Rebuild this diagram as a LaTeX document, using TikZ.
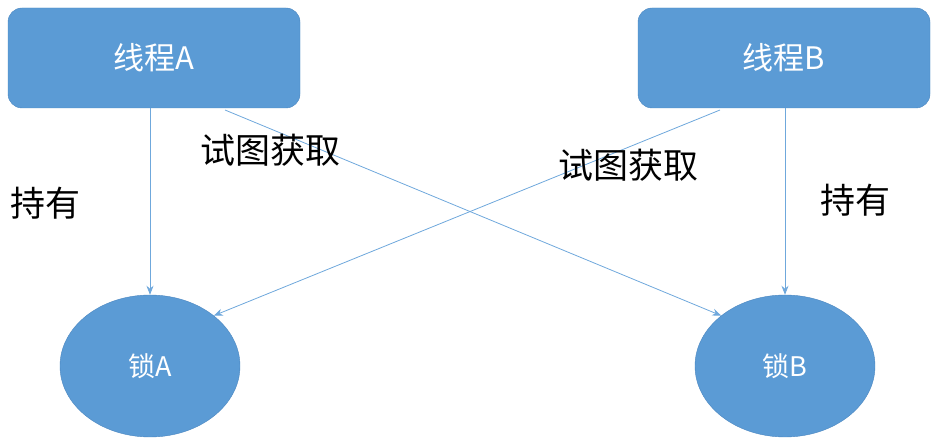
\documentclass[tikz,border=0pt]{standalone}
\usepackage{fontspec}
\setmainfont{Noto Sans CJK SC}
\usetikzlibrary{arrows.meta,shapes.geometric}
\definecolor{fillb}{HTML}{5B9BD5}
\definecolor{edgeb}{HTML}{4A86C0}
\definecolor{arr}{HTML}{6FA8DC}
\begin{document}
\begin{tikzpicture}[x=1pt,y=-1pt,
  thread/.style={draw=edgeb,fill=fillb,rounded corners=14pt,minimum width=292pt,minimum height=100pt,text=white,font=\fontsize{31}{33}\selectfont},
  lock/.style={draw=edgeb,fill=fillb,ellipse,minimum width=180pt,minimum height=142pt,text=white,font=\fontsize{27}{29}\selectfont},
  conn/.style={draw=arr,line width=0.8pt,-{Stealth[length=9pt,width=7pt]}},
  lbl/.style={font=\fontsize{35}{37}\selectfont,text=black}]
\useasboundingbox (0,0) rectangle (938,443);
\node[thread] (ta) at (154,58) {线程A};
\node[thread] (tb) at (784,58) {线程B};
\node[lock] (la) at (150,366) {锁A};
\node[lock] (lb) at (785,366) {锁B};
\coordinate (a1) at (150,108);
\coordinate (a2) at (225,110);
\coordinate (b1) at (720,110);
\coordinate (b2) at (785,108);
\draw[conn] (a1) -- (la.north);
\draw[conn] (a2) -- (lb.north west);
\draw[conn] (b1) -- (la.north east);
\draw[conn] (b2) -- (lb.north);
\node[lbl] (h1) at (45,203) {持有};
\node[lbl] (s1) at (270,150) {试图获取};
\node[lbl] (s2) at (628,165) {试图获取};
\node[lbl] (h2) at (855,200) {持有};
\end{tikzpicture}
\end{document}
